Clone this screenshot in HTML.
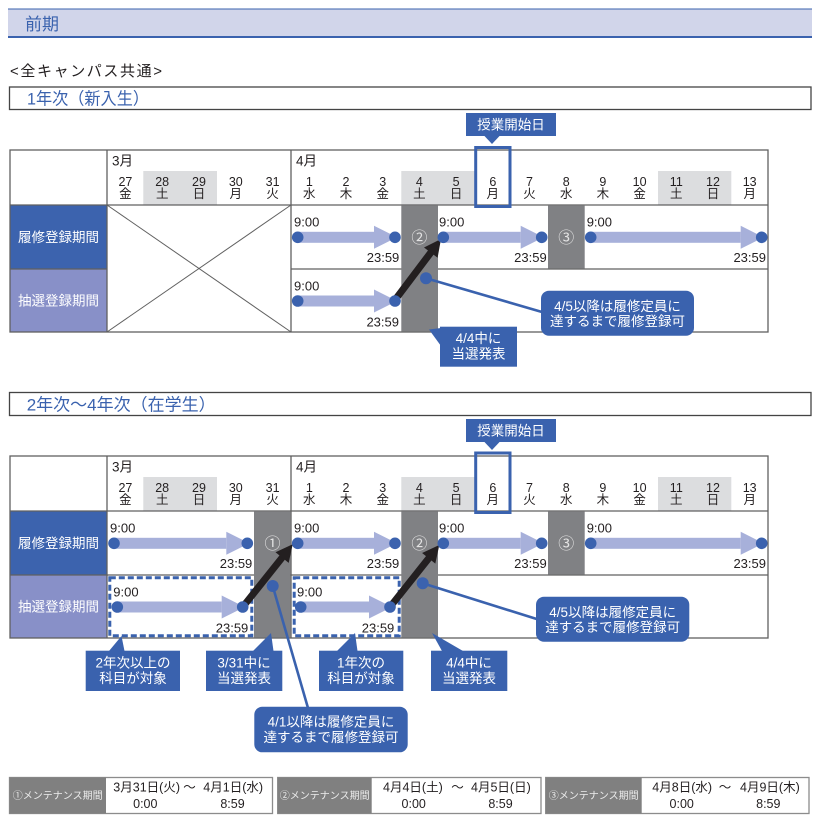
<!DOCTYPE html>
<html><head><meta charset="utf-8"><style>
html,body{margin:0;padding:0;background:#fff;}
svg{display:block;}
text{font-family:"Liberation Sans","Noto Sans CJK JP",sans-serif;}
.w{fill:#fff;}
.d{font-size:12.5px;fill:#231f20;text-anchor:middle;}
.m{font-size:13.5px;fill:#231f20;}
.t{font-size:13px;fill:#231f20;}
.te{font-size:13px;fill:#231f20;text-anchor:end;}
.lb{font-size:13.5px;fill:#fff;text-anchor:middle;}
.c{font-size:13.5px;fill:#fff;text-anchor:middle;}
.ci{font-family:"Noto Sans CJK JP","DejaVu Sans",sans-serif;font-size:16px;fill:#e4e4e4;text-anchor:middle;}
.lg{font-size:10px;fill:#ececec;text-anchor:middle;}
.lt{font-size:12.5px;fill:#231f20;}
.ltm{font-size:12.5px;fill:#231f20;text-anchor:middle;}
</style></head><body>
<svg width="830" height="830" viewBox="0 0 830 830" xmlns="http://www.w3.org/2000/svg">
<rect x="0" y="0" width="830" height="830" fill="#fff"/>

<!-- Header band -->
<rect x="8" y="8.5" width="804" height="29" fill="#d1d5ea"/>
<line x1="8" y1="9" x2="812" y2="9" stroke="#3a62ae" stroke-width="1"/>
<line x1="8" y1="37" x2="812" y2="37" stroke="#3a62ae" stroke-width="2"/>
<text x="25" y="30" font-size="17" fill="#3a62ae">前期</text>

<text x="10" y="76" font-size="15" fill="#231f20" textLength="152" lengthAdjust="spacing">&lt;全キャンパス共通&gt;</text>

<!-- Section 1 title -->
<rect x="9.5" y="87" width="801.5" height="22.5" fill="none" stroke="#444" stroke-width="1.3"/>
<text x="27" y="104.5" font-size="17" fill="#3a62ae" textLength="122" lengthAdjust="spacingAndGlyphs">1年次（新入生）</text>

<!-- ================= TABLE 1 ================= -->
<rect x="143.3" y="171" width="73.7" height="34" fill="#dcdddf"/>
<rect x="401.3" y="171" width="73.4" height="34" fill="#dcdddf"/>
<rect x="658" y="171" width="73.3" height="34" fill="#dcdddf"/>
<rect x="10" y="205" width="97" height="64" fill="#3c63ae"/>
<rect x="10" y="269" width="97" height="63" fill="#8890c8"/>

<g stroke="#606060" stroke-width="1.3" fill="none">
<rect x="10" y="150" width="758" height="182"/>
<line x1="107" y1="150" x2="107" y2="332"/>
<line x1="291" y1="150" x2="291" y2="332"/>
<line x1="10" y1="205" x2="768" y2="205"/>
<line x1="10" y1="269" x2="107" y2="269"/>
<line x1="291" y1="269" x2="768" y2="269"/>
</g>
<g stroke="#606060" stroke-width="1">
<line x1="107" y1="205" x2="291" y2="332"/>
<line x1="107" y1="332" x2="291" y2="205"/>
</g>
<rect x="401.3" y="205.6" width="36.7" height="126" fill="#808184"/>
<rect x="548" y="205.6" width="36.7" height="63" fill="#808184"/>

<text x="112" y="165.5" class="m">3月</text>
<text x="296" y="165.5" class="m">4月</text>
<g class="d">
<text x="125.4" y="186" class="d">27</text><text x="125.4" y="198" class="d">金</text>
<text x="162.2" y="186" class="d">28</text><text x="162.2" y="198" class="d">土</text>
<text x="199" y="186" class="d">29</text><text x="199" y="198" class="d">日</text>
<text x="235.8" y="186" class="d">30</text><text x="235.8" y="198" class="d">月</text>
<text x="272.6" y="186" class="d">31</text><text x="272.6" y="198" class="d">火</text>
<text x="309.3" y="186" class="d">1</text><text x="309.3" y="198" class="d">水</text>
<text x="346" y="186" class="d">2</text><text x="346" y="198" class="d">木</text>
<text x="382.7" y="186" class="d">3</text><text x="382.7" y="198" class="d">金</text>
<text x="419.4" y="186" class="d">4</text><text x="419.4" y="198" class="d">土</text>
<text x="456.1" y="186" class="d">5</text><text x="456.1" y="198" class="d">日</text>
<text x="492.8" y="186" class="d">6</text><text x="492.8" y="198" class="d">月</text>
<text x="529.5" y="186" class="d">7</text><text x="529.5" y="198" class="d">火</text>
<text x="566.2" y="186" class="d">8</text><text x="566.2" y="198" class="d">水</text>
<text x="602.9" y="186" class="d">9</text><text x="602.9" y="198" class="d">木</text>
<text x="639.6" y="186" class="d">10</text><text x="639.6" y="198" class="d">金</text>
<text x="676.3" y="186" class="d">11</text><text x="676.3" y="198" class="d">土</text>
<text x="713" y="186" class="d">12</text><text x="713" y="198" class="d">日</text>
<text x="749.7" y="186" class="d">13</text><text x="749.7" y="198" class="d">月</text>
</g>
<rect x="475.7" y="147.5" width="34.3" height="59" fill="none" stroke="#3a62ae" stroke-width="3"/>
<rect x="466" y="113" width="90" height="23" fill="#3a62ae"/>
<polygon points="484,135.5 500,135.5 492,144" fill="#3a62ae"/>
<text x="511" y="129.5" class="c">授業開始日</text>

<text x="58.5" y="242" class="lb">履修登録期間</text>
<text x="58.5" y="305.5" class="lb">抽選登録期間</text>

<!-- arrows table 1 -->
<g fill="#a7b0da">
<rect x="297.7" y="231.8" width="76.3" height="11"/><polygon points="374,225.8 397,237.3 374,248.8"/>
<rect x="443.3" y="231.8" width="77.4" height="11"/><polygon points="520.7,225.8 543.7,237.3 520.7,248.8"/>
<rect x="590.7" y="231.8" width="150" height="11"/><polygon points="740.7,225.8 763.7,237.3 740.7,248.8"/>
<rect x="297.7" y="295.5" width="76.3" height="11"/><polygon points="374,289.5 397,301 374,312.5"/>
</g>
<text x="419.4" y="242.8" class="ci">②</text>
<text x="566.2" y="242.8" class="ci">③</text>
<!-- black arrow -->
<line x1="395" y1="300" x2="431.5" y2="251.6" stroke="#231f20" stroke-width="7"/>
<polygon points="441,239 437.6,257.7 424,247.5" fill="#231f20"/>
<!-- blue connector -->
<line x1="426" y1="278.3" x2="542" y2="312" stroke="#3a62ae" stroke-width="2.6"/>
<g fill="#3b62ae">
<circle cx="297.7" cy="237.3" r="5.8"/><circle cx="395" cy="237.3" r="5.8"/>
<circle cx="443.3" cy="237.3" r="5.8"/><circle cx="541.7" cy="237.3" r="5.8"/>
<circle cx="590.7" cy="237.3" r="5.8"/><circle cx="761.7" cy="237.3" r="5.8"/>
<circle cx="297.7" cy="301" r="5.8"/><circle cx="395" cy="301" r="5.8"/>
<circle cx="426" cy="278.3" r="6"/>
</g>
<text x="294" y="226.5" class="t">9:00</text><text x="399.3" y="262" class="te">23:59</text>
<text x="439" y="226.5" class="t">9:00</text><text x="546.7" y="262" class="te">23:59</text>
<text x="586.7" y="226.5" class="t">9:00</text><text x="766" y="262" class="te">23:59</text>
<text x="294" y="290.5" class="t">9:00</text><text x="399" y="326.5" class="te">23:59</text>

<rect x="541" y="290.7" width="153" height="45" rx="8" fill="#3a62ae"/>
<text x="617.5" y="311" class="c">4/5以降は履修定員に</text>
<text x="617.5" y="326" class="c">達するまで履修登録可</text>
<polygon points="429,329.5 441,328 441,346" fill="#3a62ae"/>
<rect x="440" y="326.7" width="77" height="40" fill="#3a62ae"/>
<text x="478.5" y="343" class="c">4/4中に</text>
<text x="478.5" y="358.5" class="c">当選発表</text>

<!-- Section 2 title -->
<rect x="9.5" y="392.5" width="801.5" height="23" fill="none" stroke="#444" stroke-width="1.3"/>
<text x="26.7" y="410.5" font-size="17" fill="#3a62ae">2年次〜4年次（在学生）</text>

<!-- ================= TABLE 2 ================= -->
<rect x="143.3" y="477" width="73.7" height="34" fill="#dcdddf"/>
<rect x="401.3" y="477" width="73.4" height="34" fill="#dcdddf"/>
<rect x="658" y="477" width="73.3" height="34" fill="#dcdddf"/>
<rect x="10" y="511" width="97" height="64" fill="#3c63ae"/>
<rect x="10" y="575" width="97" height="63" fill="#8890c8"/>

<g stroke="#606060" stroke-width="1.3" fill="none">
<rect x="10" y="456" width="758" height="182"/>
<line x1="107" y1="456" x2="107" y2="638"/>
<line x1="291" y1="456" x2="291" y2="638"/>
<line x1="10" y1="511" x2="768" y2="511"/>
<line x1="10" y1="575" x2="768" y2="575"/>
</g>
<rect x="254" y="511.6" width="36.4" height="126" fill="#808184"/>
<rect x="401.3" y="511.6" width="36.7" height="126" fill="#808184"/>
<rect x="548" y="511.6" width="36.7" height="63" fill="#808184"/>

<text x="112" y="471.5" class="m">3月</text>
<text x="296" y="471.5" class="m">4月</text>
<g class="d">
<text x="125.4" y="492" class="d">27</text><text x="125.4" y="504" class="d">金</text>
<text x="162.2" y="492" class="d">28</text><text x="162.2" y="504" class="d">土</text>
<text x="199" y="492" class="d">29</text><text x="199" y="504" class="d">日</text>
<text x="235.8" y="492" class="d">30</text><text x="235.8" y="504" class="d">月</text>
<text x="272.6" y="492" class="d">31</text><text x="272.6" y="504" class="d">火</text>
<text x="309.3" y="492" class="d">1</text><text x="309.3" y="504" class="d">水</text>
<text x="346" y="492" class="d">2</text><text x="346" y="504" class="d">木</text>
<text x="382.7" y="492" class="d">3</text><text x="382.7" y="504" class="d">金</text>
<text x="419.4" y="492" class="d">4</text><text x="419.4" y="504" class="d">土</text>
<text x="456.1" y="492" class="d">5</text><text x="456.1" y="504" class="d">日</text>
<text x="492.8" y="492" class="d">6</text><text x="492.8" y="504" class="d">月</text>
<text x="529.5" y="492" class="d">7</text><text x="529.5" y="504" class="d">火</text>
<text x="566.2" y="492" class="d">8</text><text x="566.2" y="504" class="d">水</text>
<text x="602.9" y="492" class="d">9</text><text x="602.9" y="504" class="d">木</text>
<text x="639.6" y="492" class="d">10</text><text x="639.6" y="504" class="d">金</text>
<text x="676.3" y="492" class="d">11</text><text x="676.3" y="504" class="d">土</text>
<text x="713" y="492" class="d">12</text><text x="713" y="504" class="d">日</text>
<text x="749.7" y="492" class="d">13</text><text x="749.7" y="504" class="d">月</text>
</g>
<rect x="475.7" y="453" width="34.3" height="59.5" fill="none" stroke="#3a62ae" stroke-width="3"/>
<rect x="466" y="419" width="90" height="23" fill="#3a62ae"/>
<polygon points="484,441.5 500,441.5 492,450" fill="#3a62ae"/>
<text x="511" y="435.5" class="c">授業開始日</text>

<text x="58.5" y="548" class="lb">履修登録期間</text>
<text x="58.5" y="611.5" class="lb">抽選登録期間</text>

<!-- dashed boxes -->
<rect x="109.8" y="577.8" width="142" height="58" fill="#fff" stroke="#3a62ae" stroke-width="3" stroke-dasharray="6 3"/>
<rect x="294.2" y="577.8" width="105" height="58" fill="#fff" stroke="#3a62ae" stroke-width="3" stroke-dasharray="6 3"/>

<!-- arrows table 2 -->
<g fill="#a7b0da">
<rect x="114" y="537.8" width="112.3" height="11"/><polygon points="226.3,531.8 249.3,543.3 226.3,554.8"/>
<rect x="297.7" y="537.8" width="76.3" height="11"/><polygon points="374,531.8 397,543.3 374,554.8"/>
<rect x="443.3" y="537.8" width="77.4" height="11"/><polygon points="520.7,531.8 543.7,543.3 520.7,554.8"/>
<rect x="590.7" y="537.8" width="150" height="11"/><polygon points="740.7,531.8 763.7,543.3 740.7,554.8"/>
<rect x="117.3" y="601.5" width="104.4" height="11"/><polygon points="221.7,595.5 244.7,607 221.7,618.5"/>
<rect x="300.7" y="601.5" width="68.3" height="11"/><polygon points="369,595.5 392,607 369,618.5"/>
</g>
<text x="272.5" y="548.8" class="ci">①</text>
<text x="419.4" y="548.8" class="ci">②</text>
<text x="566.2" y="548.8" class="ci">③</text>

<!-- black arrows -->
<line x1="242.7" y1="607" x2="283" y2="556.5" stroke="#231f20" stroke-width="7"/>
<polygon points="292.7,544.3 288.7,562.9 275.5,552.3" fill="#231f20"/>
<line x1="390" y1="607" x2="429.6" y2="557.2" stroke="#231f20" stroke-width="7"/>
<polygon points="439.3,545 435.3,563.6 422.1,553" fill="#231f20"/>

<!-- blue connectors -->
<line x1="272.7" y1="586" x2="308" y2="708" stroke="#3a62ae" stroke-width="2.6"/>
<line x1="422.7" y1="583.3" x2="537.5" y2="619.3" stroke="#3a62ae" stroke-width="2.6"/>

<g fill="#3b62ae">
<circle cx="114" cy="543.3" r="5.8"/><circle cx="247.3" cy="543.3" r="5.8"/>
<circle cx="297.7" cy="543.3" r="5.8"/><circle cx="395" cy="543.3" r="5.8"/>
<circle cx="443.3" cy="543.3" r="5.8"/><circle cx="541.7" cy="543.3" r="5.8"/>
<circle cx="590.7" cy="543.3" r="5.8"/><circle cx="761.7" cy="543.3" r="5.8"/>
<circle cx="117.3" cy="607" r="5.8"/><circle cx="242.7" cy="607" r="5.8"/>
<circle cx="300.7" cy="607" r="5.8"/><circle cx="390" cy="607" r="5.8"/>
<circle cx="272.7" cy="586" r="6"/>
<circle cx="422.7" cy="583.3" r="6"/>
</g>

<text x="110" y="532.5" class="t">9:00</text><text x="252.3" y="568" class="te">23:59</text>
<text x="294" y="532.5" class="t">9:00</text><text x="399.3" y="568" class="te">23:59</text>
<text x="439" y="532.5" class="t">9:00</text><text x="546.7" y="568" class="te">23:59</text>
<text x="586.7" y="532.5" class="t">9:00</text><text x="766" y="568" class="te">23:59</text>
<text x="113.3" y="596.5" class="t">9:00</text><text x="248.3" y="632.5" class="te">23:59</text>
<text x="297" y="596.5" class="t">9:00</text><text x="394.3" y="632.5" class="te">23:59</text>

<!-- callouts table 2 -->
<g fill="#3a62ae">
<polygon points="109,651 121.5,636 124.5,651"/>
<rect x="85.7" y="650.7" width="94.3" height="40.3"/>
<polygon points="253,651 271,633 273.5,651"/>
<rect x="206" y="650.7" width="76.3" height="40.3"/>
<polygon points="337,651 355,633 357.5,651"/>
<rect x="319" y="650.7" width="84.3" height="40.3"/>
<polygon points="432,633 442,651 463,651"/>
<rect x="431" y="650.7" width="76.3" height="40.3"/>
<rect x="254.3" y="706.7" width="153.4" height="45.6" rx="8"/>
<rect x="536" y="596.7" width="153.3" height="45" rx="8"/>
</g>
<text x="133" y="667.5" class="c">2年次以上の</text>
<text x="133" y="683" class="c">科目が対象</text>
<text x="244" y="667.5" class="c">3/31中に</text>
<text x="244" y="683" class="c">当選発表</text>
<text x="361" y="667.5" class="c">1年次の</text>
<text x="361" y="683" class="c">科目が対象</text>
<text x="469" y="667.5" class="c">4/4中に</text>
<text x="469" y="683" class="c">当選発表</text>
<text x="331" y="726.5" class="c">4/1以降は履修定員に</text>
<text x="331" y="742" class="c">達するまで履修登録可</text>
<text x="612.7" y="617" class="c">4/5以降は履修定員に</text>
<text x="612.7" y="632" class="c">達するまで履修登録可</text>

<!-- ================= LEGEND ================= -->
<g stroke="#8c8c8c" stroke-width="1.3">
<rect x="9.5" y="777.5" width="263" height="36" fill="#fff"/>
<rect x="277.7" y="777.5" width="263.3" height="36" fill="#fff"/>
<rect x="545.7" y="777.5" width="263.3" height="36" fill="#fff"/>
</g>
<rect x="9.5" y="777.5" width="96.5" height="36" fill="#808080"/>
<rect x="277.7" y="777.5" width="94" height="36" fill="#808080"/>
<rect x="545.7" y="777.5" width="96" height="36" fill="#808080"/>
<text x="57.7" y="799" class="lg">①メンテナンス期間</text>
<text x="324.7" y="799" class="lg">②メンテナンス期間</text>
<text x="593.7" y="799" class="lg">③メンテナンス期間</text>

<text x="113.3" y="791.5" class="lt">3月31日(火)</text>
<text x="189.5" y="791.5" class="ltm">〜</text>
<text x="203.3" y="791.5" class="lt">4月1日(水)</text>
<text x="145.3" y="808" class="ltm">0:00</text>
<text x="232.5" y="808" class="ltm">8:59</text>

<text x="383" y="791.5" class="lt">4月4日(土)</text>
<text x="457.5" y="791.5" class="ltm">〜</text>
<text x="471" y="791.5" class="lt">4月5日(日)</text>
<text x="413.7" y="808" class="ltm">0:00</text>
<text x="500.5" y="808" class="ltm">8:59</text>

<text x="652.3" y="791.5" class="lt">4月8日(水)</text>
<text x="725" y="791.5" class="ltm">〜</text>
<text x="740" y="791.5" class="lt">4月9日(木)</text>
<text x="681.7" y="808" class="ltm">0:00</text>
<text x="768.3" y="808" class="ltm">8:59</text>
</svg>
</body></html>
